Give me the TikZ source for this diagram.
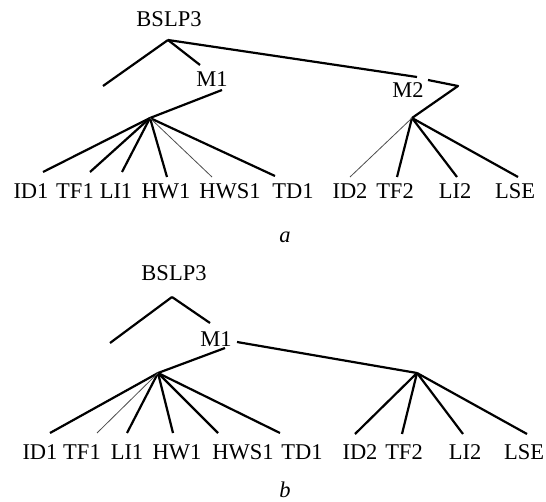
\documentclass[tikz,border=0pt]{standalone}
\usepackage{fontspec}
\setmainfont{Liberation Serif}

\begin{document}
\begin{tikzpicture}[x=1pt,y=-1pt,
    lbl/.style={anchor=base,inner sep=0pt,font=\fontsize{22.5}{27}\selectfont},
    heavy/.style={line width=2.2pt,line join=round},
    light/.style={line width=0.8pt,black!70}]
    \useasboundingbox (0,0) rectangle (546,502);
        % upper tree
        \node[lbl](Ra)at(169, 27){BSLP3};
        \node[lbl](M1a)at(212, 87){M1};
        \node[lbl](M2a)at(408, 98){M2};
        \coordinate(ra)at(168, 40);
        \coordinate(la)at(103, 86);
        \coordinate(m1in)at(200, 65);
        \coordinate(m1out)at(222, 90);
        \coordinate(m2in)at(417, 77);
        \coordinate(m2from)at(428, 80);
        \coordinate(m2bend)at(458, 86);
        \coordinate(ha)at(150, 118);
        \coordinate(ka)at(412, 118);
        \node[lbl](ID1a)at(31, 199){ID1};
        \node[lbl](TF1a)at(75, 199){TF1};
        \node[lbl](LI1a)at(116, 199){LI1};
        \node[lbl](HW1a)at(166, 199){HW1};
        \node[lbl](HWS1a)at(230, 199){HWS1};
        \node[lbl](TD1a)at(293, 199){TD1};
        \node[lbl](ID2a)at(350, 199){ID2};
        \node[lbl](TF2a)at(395, 199){TF2};
        \node[lbl](LI2a)at(455, 199){LI2};
        \node[lbl](LSEa)at(515, 199){LSE};
        \coordinate(t1a)at(43, 172);
        \coordinate(t2a)at(90, 172);
        \coordinate(t3a)at(122, 172);
        \coordinate(t4a)at(167, 177);
        \coordinate(t5a)at(212, 177);
        \coordinate(t6a)at(275, 176);
        \coordinate(u1a)at(350, 177);
        \coordinate(u2a)at(397, 177);
        \coordinate(u3a)at(457, 177);
        \coordinate(u4a)at(518, 177);
        \node[lbl,font=\fontsize{22.5}{27}\selectfont\itshape](capa)at(285, 243){a};
        \path[heavy](ra) edge (la)
        (ra) edge (m1in)
        (ra) edge (m2in)
        (m1out) edge (ha)
        (ha) edge (t1a) (ha) edge (t2a) (ha) edge (t3a)
        (ha) edge (t4a) (ha) edge (t6a)
        (ka) edge (u2a) (ka) edge (u3a) (ka) edge (u4a);
        \draw[heavy](m2from) -- (m2bend) -- (ka);
        \path[light](ha) edge (t5a) (ka) edge (u1a);
        % lower tree
        \node[lbl](Rb)at(174, 281){BSLP3};
        \node[lbl](M1b)at(216, 347){M1};
        \coordinate(rb)at(172, 297);
        \coordinate(lb)at(110, 343);
        \coordinate(m1inb)at(210, 323);
        \coordinate(m1right)at(237, 342);
        \coordinate(m1down)at(225, 348);
        \coordinate(hb)at(158, 373);
        \coordinate(kb)at(417, 373);
        \node[lbl](ID1b)at(40, 459){ID1};
        \node[lbl](TF1b)at(82, 459){TF1};
        \node[lbl](LI1b)at(127, 459){LI1};
        \node[lbl](HW1b)at(177, 459){HW1};
        \node[lbl](HWS1b)at(243, 459){HWS1};
        \node[lbl](TD1b)at(302, 459){TD1};
        \node[lbl](ID2b)at(360, 459){ID2};
        \node[lbl](TF2b)at(404, 459){TF2};
        \node[lbl](LI2b)at(465, 459){LI2};
        \node[lbl](LSEb)at(524, 459){LSE};
        \coordinate(t1b)at(50, 433);
        \coordinate(t2b)at(97, 433);
        \coordinate(t3b)at(127, 433);
        \coordinate(t4b)at(173, 433);
        \coordinate(t5b)at(218, 433);
        \coordinate(t6b)at(280, 433);
        \coordinate(u1b)at(355, 434);
        \coordinate(u2b)at(402, 434);
        \coordinate(u3b)at(463, 434);
        \coordinate(u4b)at(527, 434);
        \node[lbl,font=\fontsize{22.5}{27}\selectfont\itshape](capb)at(285, 497){b};
        \path[heavy](rb) edge (lb)
        (rb) edge (m1inb)
        (m1right) edge (kb)
        (m1down) edge (hb)
        (hb) edge (t1b) (hb) edge (t3b) (hb) edge (t4b)
        (hb) edge (t5b) (hb) edge (t6b)
        (kb) edge (u1b) (kb) edge (u2b) (kb) edge (u3b) (kb) edge (u4b);
        \path[light](hb) edge (t2b);
    \end{tikzpicture}
\end{document}
